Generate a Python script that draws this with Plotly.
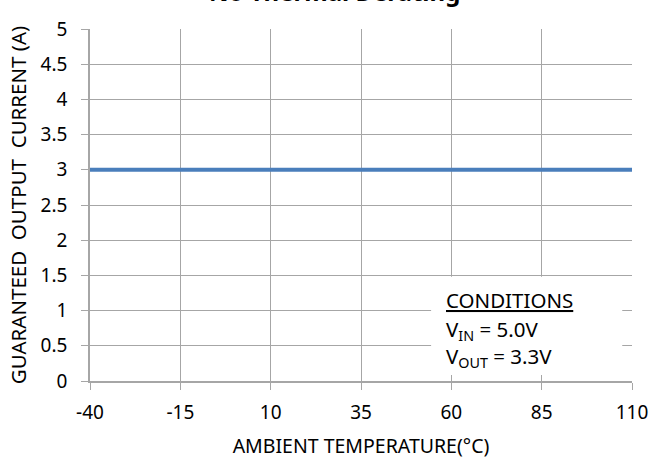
import plotly.graph_objects as go

temps = [-40, 110]
current = [3, 3]
x_ticks = [-40, -15, 10, 35, 60, 85, 110]
y_ticks = [0, 0.5, 1, 1.5, 2, 2.5, 3, 3.5, 4, 4.5, 5]
y_tick_text = ["0", "0.5", "1", "1.5", "2", "2.5", "3", "3.5", "4", "4.5", "5"]

FONT = "Noto Sans"
GRID = "#a6a6a6"

fig = go.Figure()
fig.add_trace(go.Scatter(x=temps, y=current, mode="lines",
                         line=dict(color="#4a7ebb", width=4), showlegend=False))

fig.update_layout(
    width=654, height=463,
    margin=dict(l=90, r=22, t=29, b=82, autoexpand=False),
    paper_bgcolor="white", plot_bgcolor="white",
    font=dict(family=FONT, size=19, color="black"),
    xaxis=dict(range=[-40, 110], tickvals=x_ticks, ticktext=[str(v) for v in x_ticks],
               showgrid=True, gridcolor=GRID, gridwidth=1,
               showline=True, linecolor=GRID, linewidth=1.5,
               ticks="outside", ticklen=7, tickcolor=GRID,
               ticklabelstandoff=6,
               zeroline=False, mirror=False,
               title=dict(text="AMBIENT TEMPERATURE(°C)", standoff=16,
                          font=dict(family=FONT, size=19.5))),
    yaxis=dict(range=[0, 5], tickvals=y_ticks, ticktext=y_tick_text,
               showgrid=True, gridcolor=GRID, gridwidth=1,
               showline=True, linecolor=GRID, linewidth=1.5,
               ticks="outside", ticklen=7, tickcolor=GRID,
               ticklabelstandoff=10,
               zeroline=False,
               title=dict(text="GUARANTEED  OUTPUT  CURRENT (A)", standoff=8,
                          font=dict(family=FONT, size=20.5))),
)

fig.add_annotation(x=0.452, y=1, xref="paper", yref="paper", xanchor="center", yanchor="bottom",
                   yshift=19, text="<b>No Thermal Derating</b>", showarrow=False,
                   font=dict(family=FONT, size=24, color="black"))

# white box for conditions
fig.add_shape(type="rect", xref="x", yref="y", x0=54.4, x1=107.3, y0=0.085, y1=1.48,
              fillcolor="white", line=dict(width=0), layer="above")

fig.add_annotation(x=58.0, y=1.15, xref="x", yref="y", xanchor="left", yanchor="middle",
                   text="<u>CONDITIONS</u>", showarrow=False, font=dict(family=FONT, size=20.5))
fig.add_annotation(x=58.0, y=0.72, xref="x", yref="y", xanchor="left", yanchor="middle",
                   text="V<sub>IN</sub> = 5.0V", showarrow=False, font=dict(family=FONT, size=20.5))
fig.add_annotation(x=58.0, y=0.34, xref="x", yref="y", xanchor="left", yanchor="middle",
                   text="V<sub>OUT</sub> = 3.3V", showarrow=False, font=dict(family=FONT, size=20.5))

fig.write_html("out.html", config={"displayModeBar": False},
               post_script="document.body.style.margin='0';")
